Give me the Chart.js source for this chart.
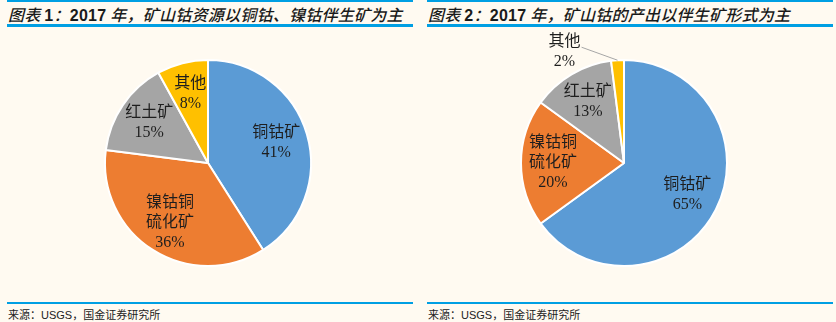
<!DOCTYPE html>
<html>
<head>
<meta charset="utf-8">
<script src="https://cdn.jsdelivr.net/npm/chart.js@4.4.1/dist/chart.umd.min.js"></script>
<style>
  body { margin: 0; background: #FFFAF1; width: 836px; height: 322px; overflow: hidden; }
  .panel { position: absolute; top: 0; width: 418px; height: 322px; }
  .topLine { position: absolute; top: 0; height: 2px; background: #009FE3; }
  .titleLine { position: absolute; top: 24px; height: 3px; background: #009FE3; }
  .bottomLine { position: absolute; top: 302px; height: 2px; background: #009FE3; }
  .title { position: absolute; top: 2px; left: 8px; font-family: "Noto Sans CJK SC", sans-serif; font-style: italic; font-weight: 500; font-size: 16px; letter-spacing: 0.25px; color: #1a1a1a; white-space: pre; }
  .title b { font-family: "Liberation Sans", Arial, sans-serif; font-style: normal; }
  .source { position: absolute; top: 306px; left: 8px; font-family: "Noto Sans CJK SC", sans-serif; font-size: 11px; color: #222; white-space: nowrap; }
  .source span { font-family: "Liberation Sans", Arial, sans-serif; }
  .chartBox { position: absolute; top: 30px; left: 0; width: 418px; height: 266px; }
</style>
</head>
<body>
<div class="panel" style="left:0">
  <div class="topLine" style="left:7px; width:406px"></div>
  <div class="title">图表 <b>1</b>：<b>2017</b> 年，矿山钴资源以铜钴、镍钴伴生矿为主</div>
  <div class="titleLine" style="left:7px; width:406px"></div>
  <div class="chartBox"><canvas id="chartLeft"></canvas></div>
  <div class="bottomLine" style="left:7px; width:406px"></div>
  <div class="source">来源：<span>USGS</span>，国金证券研究所</div>
</div>
<div class="panel" style="left:418px">
  <div class="topLine" style="left:9px; width:406px"></div>
  <div class="title" style="left:10px">图表 <b>2</b>：<b>2017</b> 年，矿山钴的产出以伴生矿形式为主</div>
  <div class="titleLine" style="left:9px; width:406px"></div>
  <div class="chartBox"><canvas id="chartRight"></canvas></div>
  <div class="bottomLine" style="left:9px; width:406px"></div>
  <div class="source" style="left:10px">来源：<span>USGS</span>，国金证券研究所</div>
</div>
<script>
// Data
const categories = ['铜钴矿', '镍钴铜硫化矿', '红土矿', '其他'];
const labelLines = [['铜钴矿'], ['镍钴铜', '硫化矿'], ['红土矿'], ['其他']];
const resourceShare = [41, 36, 15, 8];
const outputShare = [65, 20, 13, 2];

const sliceColors = ['#5B9BD5', '#ED7D31', '#A5A5A5', '#FFC000'];

// Draw slice labels, small slices get a leader line outside
const sliceLabels = {
  id: 'sliceLabels',
  afterDatasetsDraw(chart) {
    const ctx = chart.ctx;
    const values = chart.data.datasets[0].data;
    const total = values.reduce((a, b) => a + b, 0);
    const arcs = chart.getDatasetMeta(0).data;
    ctx.save();
    ctx.font = '16px "Liberation Serif", "Noto Sans CJK SC", serif';
    ctx.fillStyle = '#1e1e1e';
    ctx.textAlign = 'center';
    ctx.textBaseline = 'middle';
    arcs.forEach((arc, i) => {
      const p = arc.getProps(['x', 'y', 'startAngle', 'endAngle', 'outerRadius']);
      const mid = (p.startAngle + p.endAngle) / 2;
      const lines = labelLines[i].concat([values[i] + '%']);
      const lineH = 20;
      let cx, cy;
      if (values[i] / total >= 0.05) {
        cx = p.x + Math.cos(mid) * p.outerRadius * 0.69;
        cy = p.y + Math.sin(mid) * p.outerRadius * 0.69;
      } else {
        const ex = p.x + Math.cos(mid) * p.outerRadius;
        const ey = p.y + Math.sin(mid) * p.outerRadius;
        const bx = ex - 36, by = ey - 13;
        ctx.strokeStyle = '#A6A6A6';
        ctx.lineWidth = 1;
        ctx.beginPath();
        ctx.moveTo(ex, ey);
        ctx.lineTo(bx, by);
        ctx.stroke();
        cx = bx - 17;
        cy = by + 5;
      }
      const startY = cy - (lines.length - 1) * lineH / 2;
      lines.forEach((t, j) => ctx.fillText(t, cx, startY + j * lineH));
    });
    ctx.restore();
  }
};

function createPie(id, values, padding)
{
  return new Chart(document.getElementById(id), {
    type: 'pie',
    data: {
      labels: categories,
      datasets: [{
        data: values,
        backgroundColor: sliceColors,
        borderColor: '#FFFFFF',
        borderWidth: 2
      }]
    },
    options: {
      responsive: true,
      maintainAspectRatio: false,
      animation: false,
      layout: { padding: padding },
      plugins: {
        legend: { display: false },
        tooltip: { enabled: false }
      }
    },
    plugins: [sliceLabels]
  });
}

createPie('chartLeft', resourceShare, { left: 104, right: 106, top: 29, bottom: 29 });
createPie('chartRight', outputShare, { left: 102, right: 108, top: 29, bottom: 29 });
</script>
</body>
</html>
